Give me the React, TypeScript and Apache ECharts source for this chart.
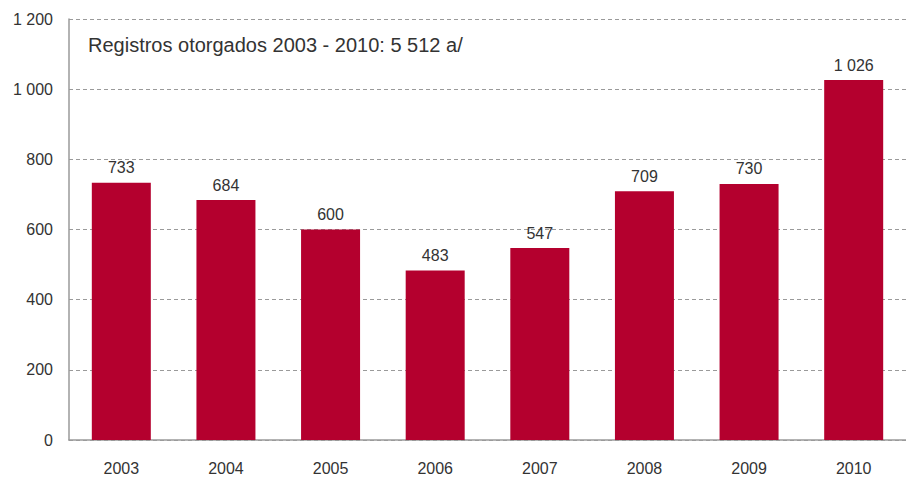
import React, { useEffect, useRef } from "react";
import * as echarts from "echarts";

const categories = ["2003", "2004", "2005", "2006", "2007", "2008", "2009", "2010"];
const values = [733, 684, 600, 483, 547, 709, 730, 1026];
const yTicks = { min: 0, max: 1200, interval: 200 };
const titleText = "Registros otorgados 2003 - 2010: 5 512 a/";

const FONT = "'Liberation Sans', Arial, sans-serif";
const TEXT = "#333333";
const BAR = "#B4002E";
const GRID = "#9a9a9a";

function fmt(v: number): string {
  const s = String(Math.round(v));
  return s.replace(/\B(?=(\d{3})+(?!\d))/g, " ");
}

export default function App() {
  const ref = useRef<HTMLDivElement>(null);
  useEffect(() => {
    if (!ref.current) return;
    const chart = echarts.init(ref.current, undefined, { renderer: "svg" });
    chart.setOption({
      animation: false,
      backgroundColor: "#ffffff",
      textStyle: { fontFamily: FONT, color: TEXT },
      grid: { left: 69, top: 19, width: 840, height: 421, containLabel: false },
      graphic: [
        {
          type: "text",
          left: 88,
          top: 35,
          style: {
            text: titleText,
            font: `20px ${FONT}`,
            fill: TEXT,
          },
        },
      ],
      xAxis: {
        type: "category",
        data: categories,
        boundaryGap: true,
        axisLine: { show: true, lineStyle: { color: GRID, width: 1.5 } },
        axisTick: { show: false },
        axisLabel: { color: TEXT, fontSize: 16, fontFamily: FONT, margin: 20 },
      },
      yAxis: {
        type: "value",
        min: yTicks.min,
        max: yTicks.max,
        interval: yTicks.interval,
        axisLine: { show: true, lineStyle: { color: GRID, width: 1.5 } },
        axisTick: { show: false },
        axisLabel: {
          color: TEXT,
          fontSize: 16,
          fontFamily: FONT,
          margin: 16,
          formatter: (v: number) => fmt(v),
        },
        splitLine: {
          show: true,
          lineStyle: { color: GRID, type: [4, 3], width: 1.2 },
        },
      },
      series: [
        {
          type: "bar",
          data: values,
          barWidth: 59,
          itemStyle: { color: BAR },
          label: {
            show: true,
            position: "top",
            distance: 7,
            color: TEXT,
            fontSize: 16,
            fontFamily: FONT,
            formatter: (p: any) => fmt(p.value),
          },
        },
      ],
    });
    return () => chart.dispose();
  }, []);
  return (
    <div
      ref={ref}
      style={{ position: "absolute", left: 0, top: 0, width: 906, height: 478 }}
    />
  );
}
